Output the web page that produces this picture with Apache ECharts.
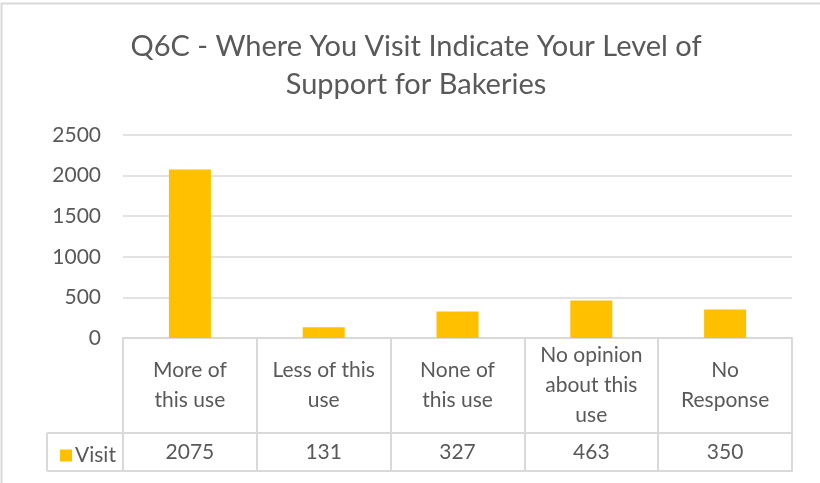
<!DOCTYPE html>
<html>
<head>
<meta charset="utf-8">
<script src="https://cdn.jsdelivr.net/npm/echarts@6/dist/echarts.min.js"></script>
<style>
  html, body { margin: 0; padding: 0; background: #fff; }
  #chart { width: 820px; height: 483px; }
</style>
</head>
<body>
<div id="chart"></div>
<script>
// Survey responses for Q6C (bakeries)
const titleLines = ['Q6C - Where You Visit Indicate Your Level of', 'Support for Bakeries'];
const categories = ['More of\nthis use', 'Less of this\nuse', 'None of\nthis use', 'No opinion\nabout this\nuse', 'No\nResponse'];
const seriesName = 'Visit';
const visitValues = [2075, 131, 327, 463, 350];
const yTicks = { min: 0, max: 2500, interval: 500 };

const FONT = 'Lato, "Open Sans", sans-serif';
const TEXT = '#595959';
const LINE = '#d9d9d9';
const BAR = '#FFC000';

const chart = echarts.init(document.getElementById('chart'), null, { renderer: 'canvas' });

const gridLeft = 123, gridRight = 28, gridTop = 135, gridBottom = 145;
const labelRowH = 95, valueRowH = 38;
const labelSize = 21;

chart.setOption({
  animation: false,
  backgroundColor: '#fff',
  title: {
    text: titleLines.join('\n'),
    left: 411,
    top: 23,
    textAlign: 'center',
    textStyle: { fontFamily: FONT, fontSize: 29, fontWeight: 'normal', color: TEXT, lineHeight: 38 }
  },
  legend: {
    data: [seriesName],
    left: 55,
    top: 440,
    icon: 'rect',
    itemWidth: 12,
    itemHeight: 12,
    textStyle: { fontFamily: FONT, fontSize: labelSize, color: TEXT, padding: [0, 0, 0, -2] }
  },
  grid: { left: gridLeft, right: gridRight, top: gridTop, bottom: gridBottom, containLabel: false },
  yAxis: {
    type: 'value',
    min: yTicks.min, max: yTicks.max, interval: yTicks.interval,
    axisLine: { show: false },
    axisTick: { show: false },
    axisLabel: { fontFamily: FONT, fontSize: labelSize, color: TEXT, margin: 22, formatter: v => String(v) },
    splitLine: { lineStyle: { color: LINE, width: 1.5 } }
  },
  xAxis: [
    {
      // category header row of the data table
      type: 'category',
      data: categories,
      position: 'bottom',
      boundaryGap: true,
      axisLine: { show: true, lineStyle: { color: LINE, width: 2 } },
      axisTick: { show: true, length: labelRowH + valueRowH, interval: 0, lineStyle: { color: LINE, width: 2 } },
      axisLabel: {
        interval: 0, fontFamily: FONT, fontSize: labelSize, color: TEXT,
        lineHeight: 30, margin: labelRowH / 2, verticalAlign: 'middle', align: 'center'
      }
    },
    {
      // value row of the data table
      type: 'category',
      data: visitValues.map(String),
      position: 'bottom',
      offset: labelRowH,
      boundaryGap: true,
      axisLine: { show: true, lineStyle: { color: LINE, width: 2 } },
      axisTick: { show: false },
      axisLabel: {
        interval: 0, fontFamily: FONT, fontSize: labelSize, color: TEXT,
        margin: valueRowH / 2, verticalAlign: 'middle', align: 'center'
      }
    },
    {
      // closing line under the data table
      type: 'category',
      data: categories,
      position: 'bottom',
      offset: labelRowH + valueRowH,
      boundaryGap: true,
      axisLine: { show: true, lineStyle: { color: LINE, width: 2 } },
      axisTick: { show: false },
      axisLabel: { show: false }
    }
  ],
  series: [{
    name: seriesName,
    type: 'bar',
    xAxisIndex: 0,
    data: visitValues,
    barWidth: 42,
    itemStyle: { color: BAR }
  }]
});

// Legend cell to the left of the value row, plus the chart border
const origin = chart.convertToPixel({ xAxisIndex: 0, yAxisIndex: 0 }, [0, 0]);
const baseY = origin[1];
const leftX = gridLeft;
const cellLeft = 47;
const rowTop = baseY + labelRowH, rowBottom = baseY + labelRowH + valueRowH;
const lineStyle = { stroke: LINE, lineWidth: 2 };
chart.setOption({
  graphic: [
    { type: 'rect', shape: { x: 1.5, y: 3.5, width: 900, height: 600 }, style: { fill: 'none', stroke: LINE, lineWidth: 2 }, silent: true },
    { type: 'line', shape: { x1: cellLeft, y1: rowTop, x2: leftX, y2: rowTop }, style: lineStyle, silent: true },
    { type: 'line', shape: { x1: cellLeft, y1: rowBottom, x2: leftX, y2: rowBottom }, style: lineStyle, silent: true },
    { type: 'line', shape: { x1: cellLeft, y1: rowTop, x2: cellLeft, y2: rowBottom }, style: lineStyle, silent: true }
  ]
});
</script>
</body>
</html>
